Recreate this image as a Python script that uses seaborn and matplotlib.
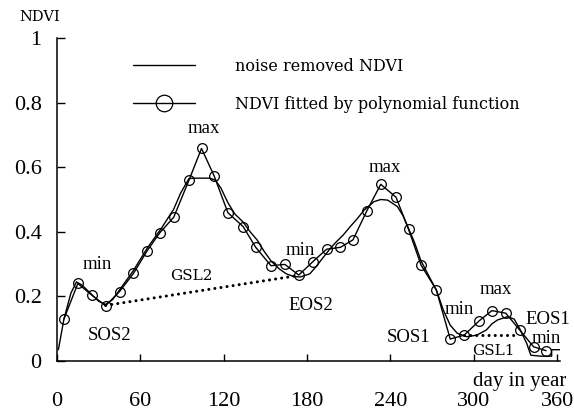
import matplotlib
matplotlib.use("Agg")
import matplotlib.pyplot as plt
import seaborn as sns
import pandas as pd

# ---------------- data ----------------
fit_day = [5, 15, 25, 35, 45, 55, 65, 74, 84, 95, 104, 113, 123, 134, 143, 154, 164, 174,
           184, 194, 204, 213, 223, 233, 244, 253, 262, 273, 283, 293, 304, 313, 323, 333, 343, 352]
fit_ndvi = [0.13, 0.24, 0.204, 0.171, 0.215, 0.271, 0.342, 0.397, 0.445, 0.560, 0.658, 0.574,
            0.459, 0.416, 0.352, 0.295, 0.299, 0.266, 0.307, 0.346, 0.352, 0.375, 0.465, 0.547,
            0.507, 0.408, 0.297, 0.220, 0.068, 0.080, 0.125, 0.156, 0.148, 0.096, 0.044, 0.032]

noise_day = [1, 5, 10, 14, 18, 24, 30, 35, 40, 45, 55, 65, 75, 84, 89, 95, 100, 110, 114, 118,
             123, 128, 134, 139, 144, 149, 154, 160, 165, 170, 175, 182, 187, 192, 197, 201, 206,
             211, 216, 221, 228, 233, 238, 245, 249, 253, 257, 262, 268, 273, 278, 283, 288, 295,
             302, 309, 313, 317, 324, 329, 333, 338, 341, 348, 356, 356, 363]
noise_ndvi = [0.035, 0.13, 0.21, 0.245, 0.235, 0.21, 0.185, 0.175, 0.19, 0.22, 0.28, 0.35, 0.41,
              0.47, 0.52, 0.565, 0.566, 0.566, 0.56, 0.535, 0.49, 0.455, 0.43, 0.40, 0.375, 0.34,
              0.31, 0.285, 0.27, 0.262, 0.26, 0.27, 0.295, 0.323, 0.35, 0.369, 0.39, 0.416, 0.44,
              0.467, 0.493, 0.50, 0.498, 0.478, 0.45, 0.41, 0.37, 0.31, 0.26, 0.22, 0.158, 0.111,
              0.086, 0.075, 0.08, 0.096, 0.115, 0.127, 0.137, 0.13, 0.10, 0.055, 0.018, 0.015,
              0.015, 0.035, 0.035]

gsl2_day = [35, 174]
gsl2_ndvi = [0.172, 0.265]
gsl1_day = [293, 330]
gsl1_ndvi = [0.079, 0.079]

x_ticks = [0, 60, 120, 180, 240, 300, 360]
y_ticks = [0, 0.2, 0.4, 0.6, 0.8, 1.0]
y_tick_labels = ["0", "0.2", "0.4", "0.6", "0.8", "1"]

labels = [("max", 105.9, 0.721), ("min", 28.8, 0.300), ("SOS2", 37.5, 0.080),
          ("min", 175, 0.341), ("EOS2", 183, 0.173), ("max", 236, 0.598),
          ("SOS1", 253, 0.074), ("min", 289.5, 0.158), ("max", 315.5, 0.220),
          ("EOS1", 353, 0.127), ("min", 352, 0.071)]
small_labels = [("GSL2", 96.5, 0.262), ("GSL1", 314, 0.031)]

# ---------------- plot ----------------
sns.set_theme(style="ticks")
plt.rcParams["font.family"] = ["Liberation Serif", "DejaVu Serif"]

fig = plt.figure(figsize=(5.74, 4.16), dpi=100)
ax = fig.add_axes([0.0993, 0.1322, 0.8763, 0.7765])

noise_df = pd.DataFrame({"day": noise_day, "ndvi": noise_ndvi})
fit_df = pd.DataFrame({"day": fit_day, "ndvi": fit_ndvi})

sns.lineplot(data=noise_df, x="day", y="ndvi", ax=ax, color="black", lw=1.0,
             estimator=None, sort=False, label="noise removed NDVI")
sns.lineplot(data=fit_df, x="day", y="ndvi", ax=ax, color="black", lw=1.0,
             estimator=None, sort=False, marker="o", markersize=7,
             markerfacecolor="none", markeredgecolor="black", markeredgewidth=0.9,
             label="NDVI fitted by polynomial function")
for dd, vv in [(gsl2_day, gsl2_ndvi), (gsl1_day, gsl1_ndvi)]:
    sns.lineplot(x=dd, y=vv, ax=ax, color="black", lw=2.2, estimator=None,
                 dashes=False, linestyle=(0, (0.01, 2.0)), dash_capstyle="round")

ax.set_xlim(0, 362)
ax.set_ylim(0, 1)
ax.set_xticks(x_ticks)
ax.set_yticks(y_ticks)
ax.set_yticklabels(y_tick_labels)
ax.set_xlabel("")
ax.set_ylabel("")
for s in ["top", "right"]:
    ax.spines[s].set_visible(False)
for s in ["left", "bottom"]:
    ax.spines[s].set_linewidth(1.1)
    ax.spines[s].set_color("black")
ax.tick_params(axis="x", direction="in", length=5, width=1, pad=22, labelsize=16, colors="black")
ax.tick_params(axis="y", direction="in", length=5.5, width=1, pad=11, labelsize=16, colors="black")

for t, x, y in labels:
    ax.text(x, y, t, ha="center", va="center", fontsize=13.5, color="black")
for t, x, y in small_labels:
    ax.text(x, y, t, ha="center", va="center", fontsize=11, color="black",
            family=["DejaVu Serif"])
ax.text(332.7, -0.062, "day in year", ha="center", va="center", fontsize=15,
        color="black", clip_on=False)
fig.text(40 / 574, 1 - 17 / 416, "NDVI", ha="center", va="center", fontsize=10.5,
         family=["DejaVu Serif"], color="black")

leg = ax.legend(loc="upper left", bbox_to_anchor=(133 / 574, 1 - 58 / 416),
                bbox_transform=fig.transFigure, frameon=False, borderpad=0,
                borderaxespad=0, handlelength=3.9, handletextpad=2.5, labelspacing=1.3,
                markerscale=1.7, prop={"family": "DejaVu Serif", "size": 11.5})
for txt in leg.get_texts():
    txt.set_color("black")

fig.savefig("out.png", dpi=100)
